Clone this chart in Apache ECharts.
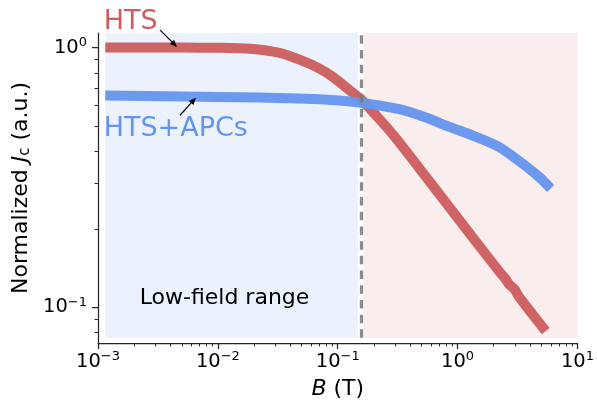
<!DOCTYPE html>
<html><head><meta charset="utf-8">
<script src="https://cdn.jsdelivr.net/npm/echarts@6/dist/echarts.min.js"></script>
<style>html,body{margin:0;padding:0;background:#fff}#c{width:597px;height:405px}</style>
</head><body><div id="c"></div>
<script>
const FONT = 'DejaVu Sans';
const RED = '#cd5c5c';
const BLUE = '#6495ed';

// HTS curve (B in T, normalized Jc)
const htsB = [0.00115, 0.002, 0.005, 0.010, 0.0185, 0.0327, 0.048, 0.0705, 0.0904, 0.1325, 0.157, 0.235, 0.296, 0.4775, 0.848, 1.507, 2.209, 2.5, 2.675, 3.0, 3.24, 5.43];
const htsJ = [1.0, 1.0, 1.0, 0.998, 0.989, 0.954, 0.898, 0.83, 0.773, 0.672, 0.632, 0.516, 0.456, 0.344, 0.244, 0.173, 0.138, 0.129, 0.123, 0.117, 0.110, 0.081];
// HTS+APCs curve
const apcB = [0.00115, 0.010, 0.048, 0.1033, 0.157, 0.326, 0.543, 0.848, 1.369, 2.209, 3.24, 4.75, 5.97];
const apcJ = [0.654, 0.646, 0.637, 0.626, 0.613, 0.579, 0.538, 0.496, 0.4566, 0.4146, 0.3666, 0.3186, 0.287];

// axes
const xRange = [0.001, 10];
const yRange = [0.0729, 1.138];
const xMajorTicks = [0.001, 0.01, 0.1, 1, 10];
const xMinorTicks = [0.002, 0.003, 0.004, 0.005, 0.006, 0.007, 0.008, 0.009,
                     0.02, 0.03, 0.04, 0.05, 0.06, 0.07, 0.08, 0.09,
                     0.2, 0.3, 0.4, 0.5, 0.6, 0.7, 0.8, 0.9,
                     2, 3, 4, 5, 6, 7, 8, 9];
const yMajorTicks = [0.1, 1];
const yMinorTicks = [0.08, 0.09, 0.2, 0.3, 0.4, 0.5, 0.6, 0.7, 0.8, 0.9];

// regions
const lowRangeB = [0.00115, 0.148];
const highRangeB = [0.1645, 10];
const spanJ = [0.0763, 1.138];
const thresholdB = 0.156;

// annotations
const annTexts = ['HTS', 'HTS+APCs', 'Low-field range'];
const annAt = [[0.001115, 1.26], [0.001115, 0.484], [0.002225, 0.108]];
const annColors = [RED, BLUE, '#000'];
const annSizes = [27, 27, 22];
const arrowFrom = [[0.0033, 1.168], [0.00483, 0.549]];
const arrowTo = [[0.00456, 1.006], [0.00656, 0.641]];

const AX = '#262626';
function powLabel(v) {
  const e = Math.round(Math.log10(v));
  return '{b|10}{s|' + (e < 0 ? '\u2212' + (-e) : e) + '}';
}
const tickRich = {
  b: {fontSize: 19.5, fontFamily: FONT, color: '#000', lineHeight: 23},
  s: {fontSize: 13, fontFamily: FONT, color: '#000', lineHeight: 12, verticalAlign: 'top'}
};

function baseAxis(range) {
  return {type: 'log', logBase: 10, min: range[0], max: range[1], gridIndex: 0,
          splitLine: {show: false}, minorTick: {show: false}, minorSplitLine: {show: false}};
}

const chart = echarts.init(document.getElementById('c'), null, {renderer: 'canvas'});
const zip = (a, b) => a.map((v, i) => [v, b[i]]);

const option = {
  animation: false,
  backgroundColor: '#fff',
  grid: {left: 98, right: 18, top: 33, bottom: 59, containLabel: false},
  xAxis: [
    Object.assign(baseAxis(xRange), {
      position: 'bottom',
      axisLine: {show: true, lineStyle: {color: AX, width: 1.25}},
      axisTick: {show: true, inside: false, length: 6, lineStyle: {color: AX, width: 1.25}, customValues: xMajorTicks},
      axisLabel: {show: true, customValues: xMajorTicks, formatter: powLabel, margin: 7, rich: tickRich},
      name: '{i|B}{n| (T)}', nameLocation: 'middle', nameGap: 35,
      nameTextStyle: {rich: {i: {fontSize: 22, fontFamily: FONT, fontStyle: 'italic', color: '#000'},
                             n: {fontSize: 22, fontFamily: FONT, color: '#000'}}}
    }),
    Object.assign(baseAxis(xRange), {
      position: 'bottom', offset: 0,
      axisLine: {show: false},
      axisTick: {show: true, inside: false, length: 3.5, lineStyle: {color: AX, width: 1}, customValues: xMinorTicks},
      axisLabel: {show: false}
    })
  ],
  yAxis: [
    Object.assign(baseAxis(yRange), {
      position: 'left',
      axisLine: {show: true, lineStyle: {color: AX, width: 1.25}},
      axisTick: {show: true, inside: false, length: 6, lineStyle: {color: AX, width: 1.25}, customValues: yMajorTicks},
      axisLabel: {show: true, customValues: yMajorTicks, formatter: powLabel, margin: 11, rich: tickRich},
      name: '{n|Normalized }{j|J}{c|c}{n| (a.u.)}', nameLocation: 'middle', nameGap: 62, nameRotate: 90,
      nameTextStyle: {rich: {n: {fontSize: 22, fontFamily: FONT, color: '#000'},
                             j: {fontSize: 22, fontFamily: FONT, fontStyle: 'italic', color: '#000'},
                             c: {fontSize: 15, fontFamily: FONT, color: '#000', verticalAlign: 'bottom', lineHeight: 16}}}
    }),
    Object.assign(baseAxis(yRange), {
      position: 'left', offset: 0,
      axisLine: {show: false},
      axisTick: {show: true, inside: false, length: 3.5, lineStyle: {color: AX, width: 1}, customValues: yMinorTicks},
      axisLabel: {show: false}
    })
  ],
  series: [
    {
      type: 'line', name: 'bg', data: [], z: 1, silent: true,
      markArea: {
        silent: true,
        data: [
          [{coord: [lowRangeB[0], spanJ[0]], itemStyle: {color: 'rgba(100,149,237,0.12)'}}, {coord: [lowRangeB[1], spanJ[1]]}],
          [{coord: [highRangeB[0], spanJ[0]], itemStyle: {color: 'rgba(205,92,92,0.11)'}}, {coord: [highRangeB[1], spanJ[1]]}]
        ]
      }
    },
    {
      type: 'line', name: 'HTS', data: zip(htsB, htsJ), z: 3, showSymbol: false, smooth: 0.25,
      lineStyle: {color: RED, width: 10, cap: 'butt', join: 'round', opacity: 0.95}
    },
    {
      type: 'line', name: 'HTS+APCs', data: zip(apcB, apcJ), z: 4, showSymbol: false, smooth: 0.25,
      lineStyle: {color: BLUE, width: 10, cap: 'butt', join: 'round', opacity: 0.95}
    },
    {
      type: 'line', name: 'marks', data: [], z: 6, silent: true,
      markLine: {
        silent: true, animation: false,
        label: {show: false},
        symbol: ['none', 'none'],
        data: [
          [{coord: [thresholdB, spanJ[0]]}, {coord: [thresholdB, spanJ[1]]}]
        ],
        lineStyle: {color: 'rgba(120,120,120,0.85)', width: 3.3, type: [8.5, 6.2]}
      }
    }
  ]
};
chart.setOption(option);

const px = v => chart.convertToPixel({xAxisIndex: 0, yAxisIndex: 0}, v);
const graphics = annTexts.map((t, i) => {
  const p = px(annAt[i]);
  return {type: 'text', x: p[0], y: p[1], z: 10, silent: true,
          style: {text: t, fill: annColors[i], fontSize: annSizes[i], fontFamily: FONT, align: 'left', verticalAlign: 'middle'}};
});
arrowFrom.forEach((f, i) => {
  const a = px(f), b = px(arrowTo[i]);
  const dx = b[0] - a[0], dy = b[1] - a[1], L = Math.hypot(dx, dy);
  const ux = dx / L, uy = dy / L, hl = 7, hw = 3;
  const bx = b[0] - ux * hl, by = b[1] - uy * hl;
  graphics.push({type: 'line', z: 10, silent: true,
    shape: {x1: a[0], y1: a[1], x2: bx + ux * 2, y2: by + uy * 2},
    style: {stroke: '#000', lineWidth: 1.2}});
  graphics.push({type: 'polygon', z: 10, silent: true,
    shape: {points: [[b[0], b[1]], [bx - uy * hw, by + ux * hw], [bx + uy * hw, by - ux * hw]]},
    style: {fill: '#000'}});
});
chart.setOption({graphic: graphics});
</script></body></html>
